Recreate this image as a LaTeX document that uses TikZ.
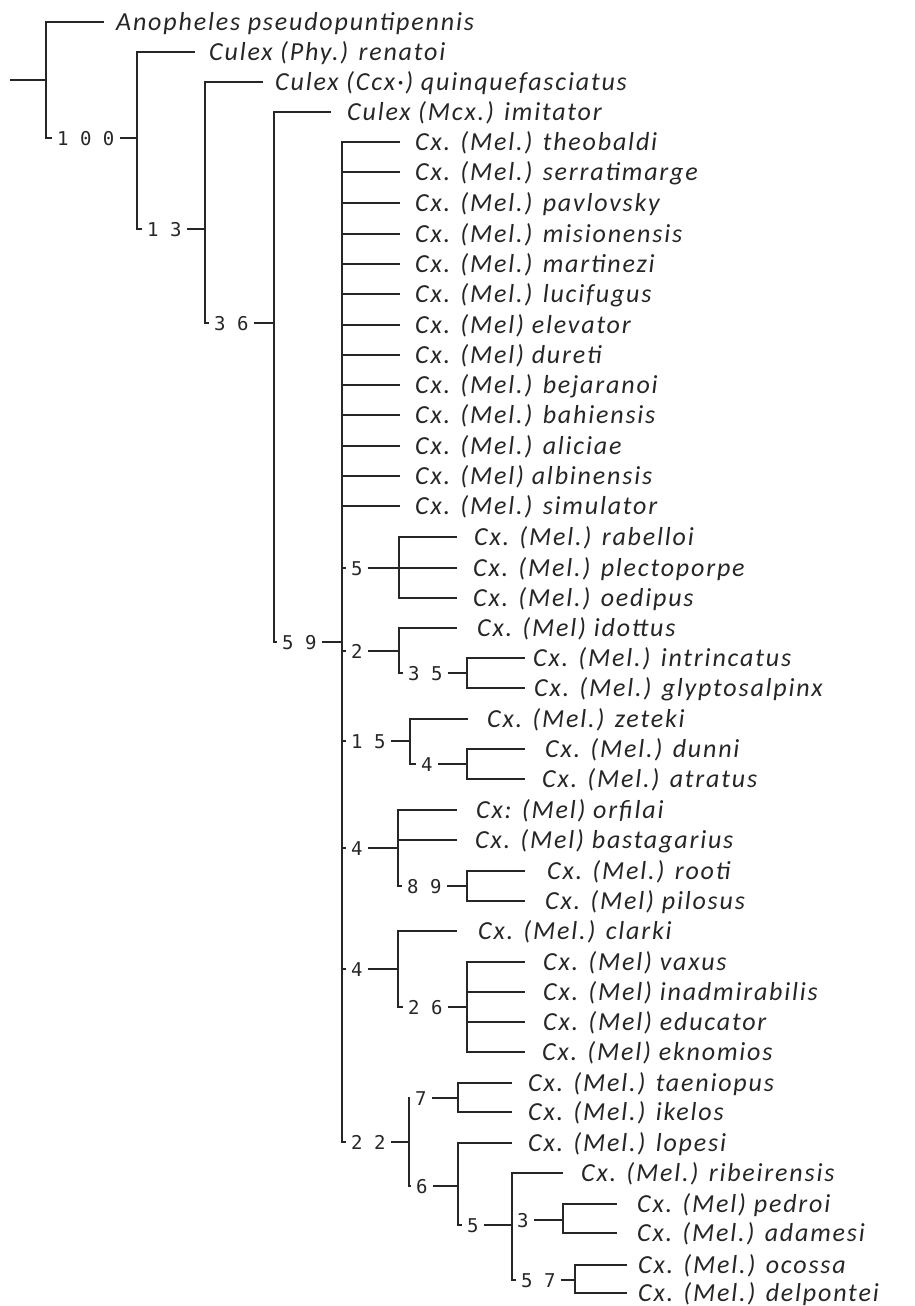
\documentclass[tikz,border=0pt]{standalone}
\usepackage{fontspec}
\usetikzlibrary{positioning}
\newfontfamily\taxfamily{Carlito}[LetterSpace=7]
\newfontfamily\supfamily{DejaVu Sans Mono}

\tikzset{
  branch/.style={line width=1.6pt, draw=black!85},
  taxon/.style={font=\taxfamily\itshape\fontsize{26}{29}\selectfont, text=black!85, inner sep=0pt, text height=16.5pt, text depth=0pt},
  support/.style={font=\supfamily\fontsize{19}{22}\selectfont, text=black!85, inner xsep=5pt, inner ysep=0pt, anchor=west, text height=14pt, text depth=0pt}
}

\begin{document}
\begin{tikzpicture}[x=1pt, y=-1pt]
  \useasboundingbox (0,0) rectangle (914,1306);

  % root, outgroup
  \coordinate (root) at (10,80);
  \coordinate (n0) at (46,80);
  \coordinate (t-anopheles) at (104,22);
  \node[taxon, right=12pt of t-anopheles] (anopheles) {Anopheles pseudopuntipennis};
  \node[support] (s100) at (52,138) {1 0 0};
  \coordinate (n100) at (137,138);
  \draw[branch] (root) -- (n0);
  \draw[branch] (n0) |- (t-anopheles) (n0) |- (s100.west) (s100.east) -- (n100);

  % Culex subgenera
  \coordinate (t-renatoi) at (195,52);
  \node[taxon, right=14pt of t-renatoi] (renatoi) {Culex (Phy.) renatoi};
  \node[support] (s13) at (142,229) {1 3};
  \coordinate (n13) at (205,229);
  \draw[branch] (n100) |- (t-renatoi) (n100) |- (s13.west) (s13.east) -- (n13);

  \coordinate (t-quinque) at (263,82);
  \node[taxon, right=12pt of t-quinque] (quinque) {Culex (Ccx·) quinquefasciatus};
  \node[support] (s36) at (209,323) {3 6};
  \coordinate (n36) at (274,323);
  \draw[branch] (n13) |- (t-quinque) (n13) |- (s36.west) (s36.east) -- (n36);

  \coordinate (t-imitator) at (331,112);
  \node[taxon, right=16pt of t-imitator] (imitator) {Culex (Mcx.) imitator};
  \node[support] (s59) at (277,642) {5 9};
  \coordinate (n59) at (342,642);
  \draw[branch] (n36) |- (t-imitator) (n36) |- (s59.west) (s59.east) -- (n59);

  % Melanoconion, unresolved part
  \coordinate (t-theobaldi) at (400,142);     \node[taxon, right=15pt of t-theobaldi] (theobaldi) {Cx. (Mel.) theobaldi};
  \coordinate (t-serratimarge) at (400,172);  \node[taxon, right=15pt of t-serratimarge] (serratimarge) {Cx. (Mel.) serratimarge};
  \coordinate (t-pavlovsky) at (400,203);     \node[taxon, right=15pt of t-pavlovsky] (pavlovsky) {Cx. (Mel.) pavlovsky};
  \coordinate (t-misionensis) at (400,234);   \node[taxon, right=15pt of t-misionensis] (misionensis) {Cx. (Mel.) misionensis};
  \coordinate (t-martinezi) at (400,264);     \node[taxon, right=15pt of t-martinezi] (martinezi) {Cx. (Mel.) martinezi};
  \coordinate (t-lucifugus) at (400,294);     \node[taxon, right=15pt of t-lucifugus] (lucifugus) {Cx. (Mel.) lucifugus};
  \coordinate (t-elevator) at (400,325);      \node[taxon, right=15pt of t-elevator] (elevator) {Cx. (Mel) elevator};
  \coordinate (t-dureti) at (400,355);        \node[taxon, right=15pt of t-dureti] (dureti) {Cx. (Mel) dureti};
  \coordinate (t-bejaranoi) at (400,385);     \node[taxon, right=15pt of t-bejaranoi] (bejaranoi) {Cx. (Mel.) bejaranoi};
  \coordinate (t-bahiensis) at (400,415);     \node[taxon, right=15pt of t-bahiensis] (bahiensis) {Cx. (Mel.) bahiensis};
  \coordinate (t-aliciae) at (400,446);       \node[taxon, right=15pt of t-aliciae] (aliciae) {Cx. (Mel.) aliciae};
  \coordinate (t-albinensis) at (400,476);    \node[taxon, right=15pt of t-albinensis] (albinensis) {Cx. (Mel) albinensis};
  \coordinate (t-simulator) at (400,506);     \node[taxon, right=15pt of t-simulator] (simulator) {Cx. (Mel.) simulator};
  \draw[branch] (n59) |- (t-theobaldi) (n59) |- (t-serratimarge) (n59) |- (t-pavlovsky)
    (n59) |- (t-misionensis) (n59) |- (t-martinezi) (n59) |- (t-lucifugus) (n59) |- (t-elevator)
    (n59) |- (t-dureti) (n59) |- (t-bejaranoi) (n59) |- (t-bahiensis) (n59) |- (t-aliciae)
    (n59) |- (t-albinensis) (n59) |- (t-simulator);

  % clade 5
  \node[support] (s5a) at (346,568) {5};
  \coordinate (n5a) at (399,568);
  \coordinate (t-rabelloi) at (457,537);      \node[taxon, right=17pt of t-rabelloi] (rabelloi) {Cx. (Mel.) rabelloi};
  \coordinate (t-plectoporpe) at (457,568);   \node[taxon, right=16pt of t-plectoporpe] (plectoporpe) {Cx. (Mel.) plectoporpe};
  \coordinate (t-oedipus) at (457,598);       \node[taxon, right=16pt of t-oedipus] (oedipus) {Cx. (Mel.) oedipus};
  \draw[branch] (n59) |- (s5a.west) (s5a.east) -- (n5a);
  \draw[branch] (n5a) |- (t-rabelloi) (n5a) -- (t-plectoporpe) (n5a) |- (t-oedipus);

  % clade 2
  \node[support] (s2) at (346,651) {2};
  \coordinate (n2) at (399,651);
  \coordinate (t-idottus) at (457,628);       \node[taxon, right=20pt of t-idottus] (idottus) {Cx. (Mel) idottus};
  \node[support] (s35) at (403,673) {3 5};
  \coordinate (n35) at (467,673);
  \coordinate (t-intrincatus) at (525,658);   \node[taxon, right=8pt of t-intrincatus] (intrincatus) {Cx. (Mel.) intrincatus};
  \coordinate (t-glypto) at (525,688);        \node[taxon, right=9pt of t-glypto] (glypto) {Cx. (Mel.) glyptosalpinx};
  \draw[branch] (n59) |- (s2.west) (s2.east) -- (n2);
  \draw[branch] (n2) |- (t-idottus) (n2) |- (s35.west) (s35.east) -- (n35);
  \draw[branch] (n35) |- (t-intrincatus) (n35) |- (t-glypto);

  % clade 15
  \node[support] (s15) at (346,741) {1 5};
  \coordinate (n15) at (410,741);
  \coordinate (t-zeteki) at (468,719);        \node[taxon, right=19pt of t-zeteki] (zeteki) {Cx. (Mel.) zeteki};
  \node[support] (s4a) at (416,764) {4};
  \coordinate (n4a) at (467,764);
  \coordinate (t-dunni) at (525,749);         \node[taxon, right=20pt of t-dunni] (dunni) {Cx. (Mel.) dunni};
  \coordinate (t-atratus) at (525,779);       \node[taxon, right=17pt of t-atratus] (atratus) {Cx. (Mel.) atratus};
  \draw[branch] (n59) |- (s15.west) (s15.east) -- (n15);
  \draw[branch] (n15) |- (t-zeteki) (n15) |- (s4a.west) (s4a.east) -- (n4a);
  \draw[branch] (n4a) |- (t-dunni) (n4a) |- (t-atratus);

  % clade 4 (orfilai)
  \node[support] (s4b) at (346,848) {4};
  \coordinate (n4b) at (398,848);
  \coordinate (t-orfilai) at (457,810);       \node[taxon, right=19pt of t-orfilai] (orfilai) {Cx: (Mel) orfilai};
  \coordinate (t-bastagarius) at (457,840);   \node[taxon, right=18pt of t-bastagarius] (bastagarius) {Cx. (Mel) bastagarius};
  \node[support] (s89) at (402,886) {8 9};
  \coordinate (n89) at (467,886);
  \coordinate (t-rooti) at (525,871);         \node[taxon, right=22pt of t-rooti] (rooti) {Cx. (Mel.) rooti};
  \coordinate (t-pilosus) at (525,901);       \node[taxon, right=20pt of t-pilosus] (pilosus) {Cx. (Mel) pilosus};
  \draw[branch] (n59) |- (s4b.west) (s4b.east) -- (n4b);
  \draw[branch] (n4b) |- (t-orfilai) (n4b) |- (t-bastagarius) (n4b) |- (s89.west) (s89.east) -- (n89);
  \draw[branch] (n89) |- (t-rooti) (n89) |- (t-pilosus);

  % clade 4 (clarki)
  \node[support] (s4c) at (346,969) {4};
  \coordinate (n4c) at (398,969);
  \coordinate (t-clarki) at (457,931);        \node[taxon, right=21pt of t-clarki] (clarki) {Cx. (Mel.) clarki};
  \node[support] (s26) at (403,1007) {2 6};
  \coordinate (n26) at (467,1007);
  \coordinate (t-vaxus) at (525,962);         \node[taxon, right=18pt of t-vaxus] (vaxus) {Cx. (Mel) vaxus};
  \coordinate (t-inadmirabilis) at (525,992); \node[taxon, right=18pt of t-inadmirabilis] (inadmirabilis) {Cx. (Mel) inadmirabilis};
  \coordinate (t-educator) at (525,1022);     \node[taxon, right=18pt of t-educator] (educator) {Cx. (Mel) educator};
  \coordinate (t-eknomios) at (525,1052);     \node[taxon, right=17pt of t-eknomios] (eknomios) {Cx. (Mel) eknomios};
  \draw[branch] (n59) |- (s4c.west) (s4c.east) -- (n4c);
  \draw[branch] (n4c) |- (t-clarki) (n4c) |- (s26.west) (s26.east) -- (n26);
  \draw[branch] (n26) |- (t-vaxus) (n26) |- (t-inadmirabilis) (n26) |- (t-educator) (n26) |- (t-eknomios);

  % clade 22
  \node[support] (s22) at (346,1142) {2 2};
  \coordinate (n22) at (409,1142);
  \draw[branch] (n59) |- (s22.west) (s22.east) -- (n22);

  \node[support] (s7) at (410,1098) {7};
  \coordinate (n7) at (458,1098);
  \coordinate (t-taeniopus) at (512,1083);    \node[taxon, right=16pt of t-taeniopus] (taeniopus) {Cx. (Mel.) taeniopus};
  \coordinate (t-ikelos) at (512,1112);       \node[taxon, right=16pt of t-ikelos] (ikelos) {Cx. (Mel.) ikelos};
  \draw[branch] (n22) |- (s7.west) (s7.east) -- (n7);
  \draw[branch] (n7) |- (t-taeniopus) (n7) |- (t-ikelos);

  \node[support] (s6) at (411,1186) {6};
  \coordinate (n6) at (458,1186);
  \coordinate (t-lopesi) at (512,1143);       \node[taxon, right=16pt of t-lopesi] (lopesi) {Cx. (Mel.) lopesi};
  \draw[branch] (n22) |- (s6.west) (s6.east) -- (n6);
  \draw[branch] (n6) |- (t-lopesi);

  \node[support] (s5b) at (462,1225) {5};
  \coordinate (n5b) at (512,1225);
  \coordinate (t-ribeirensis) at (563,1173);  \node[taxon, right=18pt of t-ribeirensis] (ribeirensis) {Cx. (Mel.) ribeirensis};
  \draw[branch] (n6) |- (s5b.west) (s5b.east) -- (n5b);
  \draw[branch] (n5b) |- (t-ribeirensis);

  \node[support] (s3) at (512,1220) {3};
  \coordinate (n3) at (563,1220);
  \coordinate (t-pedroi) at (617,1204);       \node[taxon, right=20pt of t-pedroi] (pedroi) {Cx. (Mel) pedroi};
  \coordinate (t-adamesi) at (617,1233);      \node[taxon, right=20pt of t-adamesi] (adamesi) {Cx. (Mel.) adamesi};
  \draw[branch] (s3.east) -- (n3);
  \draw[branch] (n3) |- (t-pedroi) (n3) |- (t-adamesi);

  \node[support] (s57) at (516,1280) {5 7};
  \coordinate (n57) at (575,1280);
  \coordinate (t-ocossa) at (627,1265);       \node[taxon, right=11pt of t-ocossa] (ocossa) {Cx. (Mel.) ocossa};
  \coordinate (t-delpontei) at (627,1293);    \node[taxon, right=11pt of t-delpontei] (delpontei) {Cx. (Mel.) delpontei};
  \draw[branch] (n5b) |- (s57.west) (s57.east) -- (n57);
  \draw[branch] (n57) |- (t-ocossa) (n57) |- (t-delpontei);
\end{tikzpicture}
\end{document}
